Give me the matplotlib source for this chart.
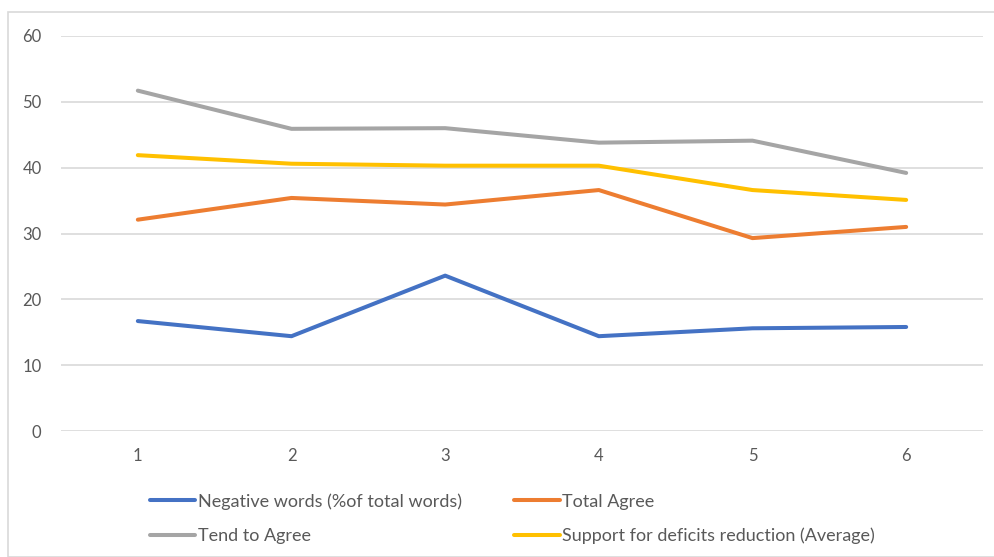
import matplotlib.pyplot as plt
from matplotlib.patches import Rectangle

plt.rcParams["font.family"] = ["Lato", "DejaVu Sans"]

periods = [1, 2, 3, 4, 5, 6]
negative_words = [16.7, 14.4, 23.6, 14.4, 15.6, 15.8]
total_agree = [32.1, 35.4, 34.4, 36.6, 29.3, 31.0]
tend_to_agree = [51.7, 45.9, 46.0, 43.8, 44.1, 39.2]
deficit_support = [41.9, 40.6, 40.3, 40.3, 36.6, 35.1]

series = [
    ("Negative words (%of total words)", negative_words, "#4472C4"),
    ("Total Agree", total_agree, "#ED7D31"),
    ("Tend to Agree", tend_to_agree, "#A5A5A5"),
    ("Support for deficits reduction (Average)", deficit_support, "#FFC000"),
]

W, H = 994, 557
fig = plt.figure(figsize=(W / 100, H / 100), dpi=100)
fig.patches.append(Rectangle((8 / W, 0), 1, 1 - 12 / H, transform=fig.transFigure,
                             fill=False, edgecolor="#D9D9D9", linewidth=1.2))
ax = fig.add_axes([61 / W, (H - 431) / H, (983 - 61) / W, (431 - 36) / H])

lines = {}
for name, vals, col in series:
    (ln,) = ax.plot(periods, vals, color=col, linewidth=2.9,
                    solid_capstyle="round", solid_joinstyle="round", label=name)
    lines[name] = ln

ax.set_xlim(0.5, 6.5)
ax.set_ylim(0, 60)
ax.set_yticks(range(0, 61, 10))
ax.set_xticks(periods)
ax.grid(axis="y", color="#D9D9D9", linewidth=1.2)
ax.set_axisbelow(True)
for s in ax.spines.values():
    s.set_visible(False)
ax.tick_params(length=0, labelsize=12, labelcolor="#595959")
ax.tick_params(axis="x", pad=12)
ax.tick_params(axis="y", pad=14)

# two-column legend, filled column by column
order = ["Negative words (%of total words)", "Tend to Agree",
         "Total Agree", "Support for deficits reduction (Average)"]
leg = fig.legend([lines[n] for n in order], order, ncol=2, loc="upper left",
                 bbox_to_anchor=(134 / W, 1 - 477 / H), frameon=False,
                 fontsize=13, handlelength=2.5, handletextpad=0.15,
                 columnspacing=2.9, labelspacing=1.0)
for t in leg.get_texts():
    t.set_color("#595959")

fig.savefig("out.png", dpi=100)
